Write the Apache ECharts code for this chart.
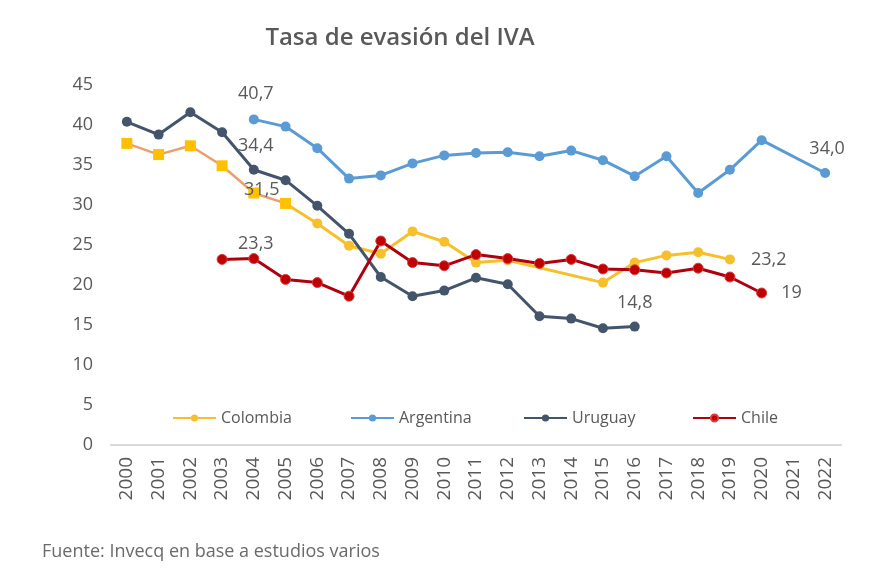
<!DOCTYPE html>
<html>
<head>
<meta charset="utf-8">
<script src="https://cdn.jsdelivr.net/npm/echarts@6/dist/echarts.min.js"></script>
<style>
html,body{margin:0;padding:0;background:#fff;}
#chart{width:870px;height:580px;}
</style>
</head>
<body>
<div id="chart"></div>
<script>
const years = ['2000','2001','2002','2003','2004','2005','2006','2007','2008','2009','2010','2011','2012','2013','2014','2015','2016','2017','2018','2019','2020','2021','2022'];
// Colombia early segment (square markers, 2000-2005)
const colombiaEarly = [37.7,36.3,37.4,34.9,31.5,30.2,null,null,null,null,null,null,null,null,null,null,null,null,null,null,null,null,null];
const colombia = [null,null,null,null,null,30.2,27.7,24.9,23.9,26.7,25.4,22.8,23.1,null,null,20.3,22.8,23.7,24.1,23.2,null,null,null];
const argentina = [null,null,null,null,40.7,39.8,37.1,33.3,33.7,35.2,36.2,36.5,36.6,36.1,36.8,35.6,33.6,36.1,31.5,34.4,38.1,null,34.0];
const uruguay = [40.4,38.8,41.6,39.1,34.4,33.1,29.9,26.4,21.0,18.6,19.3,20.9,20.1,16.1,15.8,14.6,14.8,null,null,null,null,null,null];
const chile = [null,null,null,23.2,23.3,20.7,20.3,18.6,25.5,22.8,22.4,23.8,23.3,22.7,23.2,22.0,21.9,21.5,22.1,21.0,19,null,null];
const yTicks = [0,5,10,15,20,25,30,35,40,45];
const legendNames = ['Colombia','Argentina','Uruguay','Chile'];

const FONT = '"Open Sans", "Noto Sans", sans-serif';
const TXT = '#595959';
const fmt = v => v.toFixed(1).replace('.', ',');

function withLabels(arr, labelMap, formatter) {
  return arr.map((v, i) => {
    if (labelMap[i]) {
      return {value: v, label: Object.assign({show: true, formatter: formatter(v), color: TXT, fontSize: 18, fontFamily: FONT}, labelMap[i])};
    }
    return v;
  });
}

const legendLefts = [167, 345, 518, 687];
const chart = echarts.init(document.getElementById('chart'));
chart.setOption({
  backgroundColor: '#fff',
  animation: false,
  title: {
    text: 'Tasa de evasión del IVA',
    left: 395, top: 21, textAlign: 'center',
    textStyle: {color: TXT, fontSize: 24, fontWeight: 600, fontFamily: FONT}
  },
  legend: legendNames.map((n, i) => ({
    data: [n],
    left: legendLefts[i], top: 405,
    itemWidth: 43, itemHeight: 9, itemGap: 10,
    textStyle: {color: TXT, fontSize: 16, fontFamily: FONT}
  })),
  grid: {left: 111, right: 29, top: 85, bottom: 135},
  xAxis: {
    type: 'category', data: years, boundaryGap: true,
    axisLine: {lineStyle: {color: '#D9D9D9', width: 2}},
    axisTick: {show: false},
    axisLabel: {rotate: 90, color: TXT, fontSize: 19, fontFamily: FONT, margin: 12, interval: 0}
  },
  yAxis: {
    type: 'value', min: 0, max: 45, interval: 5,
    axisLine: {show: false}, axisTick: {show: false}, splitLine: {show: false},
    axisLabel: {color: TXT, fontSize: 18, fontFamily: FONT, margin: 18,
      formatter: v => yTicks.includes(v) ? String(v) : ''}
  },
  graphic: [{
    type: 'text', left: 42, top: 543,
    style: {text: 'Fuente: Invecq en base a estudios varios', fill: '#6A6A6A', fontSize: 18, fontFamily: FONT}
  }],
  series: [
    {
      name: 'Colombia', type: 'line', data: withLabels(colombia, {19: {position: 'right', distance: 16}}, fmt),
      connectNulls: true, symbol: 'circle', symbolSize: 10,
      itemStyle: {color: '#F5C02C'}, lineStyle: {color: '#F5C02C', width: 3}, z: 2
    },
    {
      name: 'ColombiaEarly', type: 'line', data: withLabels(colombiaEarly, {4: {position: 'inside', offset: [8, -3]}}, fmt),
      symbol: 'rect', symbolSize: 11,
      itemStyle: {color: '#FFC000'}, lineStyle: {color: '#E9A06B', width: 2.5}, z: 3
    },
    {
      name: 'Argentina', type: 'line', data: withLabels(argentina, {4: {position: 'top', distance: 12, offset: [2, 0]}, 22: {position: 'top', distance: 10, offset: [2, 0]}}, fmt),
      connectNulls: true, symbol: 'circle', symbolSize: 10,
      itemStyle: {color: '#5B9BD5'}, lineStyle: {color: '#5B9BD5', width: 3}, z: 4
    },
    {
      name: 'Uruguay', type: 'line', data: withLabels(uruguay, {4: {position: 'top', distance: 10, offset: [2, 0]}, 16: {position: 'top', distance: 10}}, fmt),
      symbol: 'circle', symbolSize: 10,
      itemStyle: {color: '#44546A'}, lineStyle: {color: '#44546A', width: 3}, z: 5
    },
    {
      name: 'Chile', type: 'line', data: withLabels(chile, {4: {position: 'top', distance: 0, offset: [2, 0]}, 20: {position: 'right', distance: 14}}, v => String(v).replace('.', ',')),
      symbol: 'circle', symbolSize: 10,
      itemStyle: {color: '#C00000', borderColor: '#D84040', borderWidth: 1}, lineStyle: {color: '#B00010', width: 3}, z: 6
    }
  ]
});
</script>
</body>
</html>
